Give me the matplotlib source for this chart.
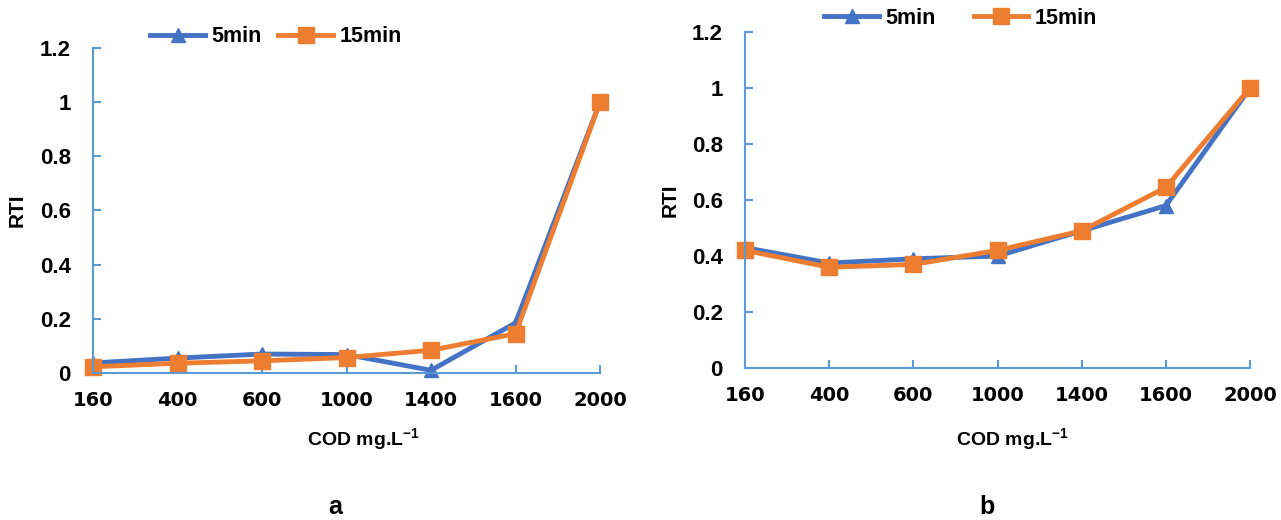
import matplotlib.pyplot as plt
import numpy as np

# Data
cod_labels = ['160', '400', '600', '1000', '1400', '1600', '2000']
rti_a_5min = [0.037, 0.055, 0.070, 0.068, 0.010, 0.185, 1.0]
rti_a_15min = [0.023, 0.036, 0.045, 0.057, 0.084, 0.145, 1.0]
rti_b_5min = [0.43, 0.375, 0.39, 0.40, 0.49, 0.58, 1.0]
rti_b_15min = [0.42, 0.36, 0.37, 0.42, 0.49, 0.645, 1.0]

blue = '#4472C4'
orange = '#ED7D31'
axis_col = '#5B9BD5'

plt.rcParams['font.family'] = ['Liberation Sans', 'DejaVu Sans']
plt.rcParams['mathtext.fontset'] = 'custom'
plt.rcParams['mathtext.rm'] = 'Liberation Sans'
plt.rcParams['mathtext.bf'] = 'Liberation Sans:bold'
fig = plt.figure(figsize=(12.81, 5.2), dpi=100)

# rect, series, legend centre, column spacing, panel letter, x of COD label, x of letter
panels = [
    ([0.0726, 0.2827, 0.3958, 0.625], rti_a_5min, rti_a_15min, (0.2155, 0.929), 0.75, 'a', 0.284, 0.2615),
    ([0.5816, 0.2923, 0.3942, 0.646], rti_b_5min, rti_b_15min, (0.750, 0.965), 1.75, 'b', 0.790, 0.7705),
]

x = np.arange(len(cod_labels))
for rect, s5, s15, leg_pos, colsp, letter, xc, xl in panels:
    ax = fig.add_axes(rect)
    ax.plot(x, s5, color=blue, lw=3.5, marker='^', ms=10.5, label='5min', clip_on=False)
    ax.plot(x, s15, color=orange, lw=3.5, marker='s', ms=11.5, label='15min', clip_on=False)
    ax.set_xlim(0, 6)
    ax.set_ylim(0, 1.2)
    ax.set_yticks([0, 0.2, 0.4, 0.6, 0.8, 1, 1.2])
    ax.set_yticklabels(['0', '0.2', '0.4', '0.6', '0.8', '1', '1.2'],
                       fontsize=16, fontweight='bold')
    ax.set_xticks(x)
    ax.set_xticklabels(cod_labels, family='DejaVu Sans', fontsize=14, fontweight='bold')
    for s in ['top', 'right']:
        ax.spines[s].set_visible(False)
    for s in ['left', 'bottom']:
        ax.spines[s].set_color(axis_col)
        ax.spines[s].set_linewidth(1.5)
    ax.tick_params(direction='in', length=5.5, color=axis_col, width=1.5)
    ax.tick_params(axis='y', pad=16)
    ax.tick_params(axis='x', pad=13)
    ax.set_ylabel('RTI', fontsize=15, fontweight='bold')
    ax.yaxis.set_label_coords(-0.13, 0.5)
    ax.legend(loc='center', bbox_to_anchor=leg_pos, bbox_transform=fig.transFigure,
              ncol=2, frameon=False, prop={'weight': 'bold', 'size': 15.5},
              handlelength=2.55, handletextpad=0.3, columnspacing=colsp)
    fig.text(xc, 0.154, r'COD mg.L$^{\mathbf{-1}}$', ha='center', va='center',
             fontsize=14, fontweight='bold')
    fig.text(xl, 0.025, letter, ha='center', va='center', fontsize=18, fontweight='bold')

plt.savefig('out.png', dpi=100)
